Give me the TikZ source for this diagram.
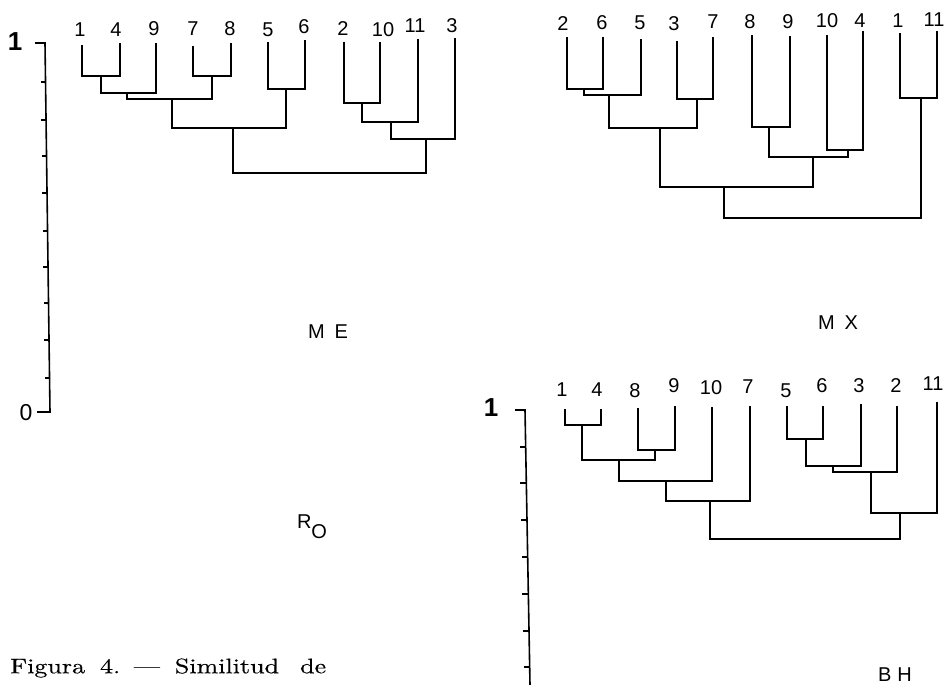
\documentclass[tikz,border=0pt]{standalone}
\usepackage{fontspec}
\newfontfamily\labfont{Liberation Sans}
\newfontfamily\capfont{lmroman10-regular.otf}[Ligatures=TeX,FakeBold=0.4]
\usetikzlibrary{calc}

\begin{document}
\begin{tikzpicture}[x=1pt,y=-1pt,
  tree/.style={line width=1.6pt, line join=miter},
  axisline/.style={line width=1.6pt, line join=miter},
  leaf/.style={font=\labfont\fontsize{20}{20}\selectfont, inner sep=0pt},
  unitlab/.style={font=\labfont\bfseries\fontsize{26}{26}\selectfont, inner sep=0pt},
  zerolab/.style={font=\labfont\fontsize{23}{23}\selectfont, inner sep=0pt},
  grouplab/.style={font=\labfont\fontsize{20}{20}\selectfont, inner sep=0pt},
  caption/.style={font=\capfont\fontsize{21}{21}\selectfont, inner sep=0pt, anchor=west}
]
\useasboundingbox (0,0) rectangle (945,685);

% ---------- similarity scale on the left ----------
\coordinate (laTl) at (35,43);
\coordinate (laT)  at (45,43);
\coordinate (laB)  at (50,412);
\coordinate (laBl) at (37,412);
\draw[axisline] (laTl) -- (laT) -- (laB) -- (laBl);
\foreach \t in {82,120,156,193,231,267,303,340,378}
  \draw[axisline] ($(laT)!{(\t-43)/369}!(laB)$) -- ++(-5,0);
\node[unitlab] (oneA) at (15,42) {1};
\node[zerolab] (zeroA) at (26,413) {0};

% ---------- ME ----------
\foreach \n/\x/\y in {1/80/30, 4/116/30, 9/154/29, 7/193/29, 8/230/29,
                      5/268/30, 6/304/27, 2/343/29, 10/383/30, 11/415/26, 3/452/26}
  \node[leaf] (me\n) at (\x,\y) {\n};
\foreach \n/\x/\y in {1/82/45, 4/120/43, 9/156/43, 7/193/46, 8/231/43,
                      5/268/42, 6/305/40, 2/344/42, 10/380/42, 11/418/39, 3/455/38}
  \coordinate (mel\n) at (\x,\y);
\coordinate (meA) at (101,76);  \draw[tree] (mel1) |- (meA) -| (mel4);
\coordinate (meB) at (127,93);  \draw[tree] (meA) |- (meB) -| (mel9);
\coordinate (meC) at (212,76);  \draw[tree] (mel7) |- (meC) -| (mel8);
\coordinate (meD) at (172,99);  \draw[tree] (meB) |- (meD) -| (meC);
\coordinate (meE) at (286,89);  \draw[tree] (mel5) |- (meE) -| (mel6);
\coordinate (meF) at (233,128); \draw[tree] (meD) |- (meF) -| (meE);
\coordinate (meG) at (362,103); \draw[tree] (mel2) |- (meG) -| (mel10);
\coordinate (meH) at (391,122); \draw[tree] (meG) |- (meH) -| (mel11);
\coordinate (meI) at (426,139); \draw[tree] (meH) |- (meI) -| (mel3);
\coordinate (meR) at (330,173); \draw[tree] (meF) |- (meR) -| (meI);
\node[grouplab] (meName) at (328,332) {M\hspace{10pt}E};

% ---------- MX ----------
\foreach \n/\x/\y in {2/563/24, 6/602/23, 5/640/23, 3/674/24, 7/713/22, 8/750/22,
                      9/788/22, 10/827/21, 4/860/21, 1/898/21, 11/934/20}
  \node[leaf] (mx\n) at (\x,\y) {\n};
\foreach \n/\x/\y in {2/567/37, 6/603/37, 5/641/39, 3/677/41, 7/713/37, 8/752/35,
                      9/790/36, 10/827/35, 4/863/31, 1/900/33, 11/937/31}
  \coordinate (mxl\n) at (\x,\y);
\coordinate (mxA) at (584,89);  \draw[tree] (mxl2) |- (mxA) -| (mxl6);
\coordinate (mxB) at (609,95);  \draw[tree] (mxA) |- (mxB) -| (mxl5);
\coordinate (mxC) at (697,99);  \draw[tree] (mxl3) |- (mxC) -| (mxl7);
\coordinate (mxD) at (660,128); \draw[tree] (mxB) |- (mxD) -| (mxC);
\coordinate (mxE) at (769,127); \draw[tree] (mxl8) |- (mxE) -| (mxl9);
\coordinate (mxF) at (848,150); \draw[tree] (mxl10) |- (mxF) -| (mxl4);
\coordinate (mxG) at (813,157); \draw[tree] (mxE) |- (mxG) -| (mxF);
\coordinate (mxH) at (724,187); \draw[tree] (mxD) |- (mxH) -| (mxG);
\coordinate (mxI) at (921,98);  \draw[tree] (mxl1) |- (mxI) -| (mxl11);
\coordinate (mxR) at (820,218); \draw[tree] (mxH) |- (mxR) -| (mxI);
\node[grouplab] (mxName) at (838,323) {M\hspace{10pt}X};

% ---------- BH with its own scale ----------
\coordinate (bxTl) at (515,410);
\coordinate (bxT)  at (525,410);
\coordinate (bxB)  at (530,685);
\draw[axisline] (bxTl) -- (bxT) -- (bxB);
\foreach \t in {447,483,520,557,594,631,667}
  \draw[axisline] ($(bxT)!{(\t-410)/275}!(bxB)$) -- ++(-6,0);
\node[unitlab] (oneB) at (491,408) {1};

\foreach \n/\x/\y in {1/562/390, 4/597/390, 8/635/391, 9/674/386, 10/711/388, 7/748/387,
                      5/786/391, 6/822/386, 3/859/386, 2/896/386, 11/933/384}
  \node[leaf] (bh\n) at (\x,\y) {\n};
\foreach \n/\x/\y in {1/565/409, 4/601/409, 8/638/408, 9/675/406, 10/712/407, 7/750/406,
                      5/787/406, 6/823/406, 3/861/404, 2/897/406, 11/937/402}
  \coordinate (bhl\n) at (\x,\y);
\coordinate (bhA) at (582,425); \draw[tree] (bhl1) |- (bhA) -| (bhl4);
\coordinate (bhB) at (655,450); \draw[tree] (bhl8) |- (bhB) -| (bhl9);
\coordinate (bhC) at (619,460); \draw[tree] (bhA) |- (bhC) -| (bhB);
\coordinate (bhD) at (666,481); \draw[tree] (bhC) |- (bhD) -| (bhl10);
\coordinate (bhE) at (710,501); \draw[tree] (bhD) |- (bhE) -| (bhl7);
\coordinate (bhF) at (806,439); \draw[tree] (bhl5) |- (bhF) -| (bhl6);
\coordinate (bhG) at (833,466); \draw[tree] (bhF) |- (bhG) -| (bhl3);
\coordinate (bhH) at (871,472); \draw[tree] (bhG) |- (bhH) -| (bhl2);
\coordinate (bhI) at (900,513); \draw[tree] (bhH) |- (bhI) -| (bhl11);
\coordinate (bhR) at (805,539); \draw[tree] (bhE) |- (bhR) -| (bhI);
\node[grouplab] (bhName) at (895,675) {B\hspace{6pt}H};

% ---------- axis name and caption ----------
\node[grouplab] (roName) at (312,527) {R\raisebox{-10pt}{O}};
\node[caption] (cap) at (10,668)
  {\scalebox{1.24}[1]{Figura\hspace{12pt}4.\hspace{11pt}---\hspace{12pt}Similitud\hspace{17pt}de}};
\end{tikzpicture}
\end{document}
